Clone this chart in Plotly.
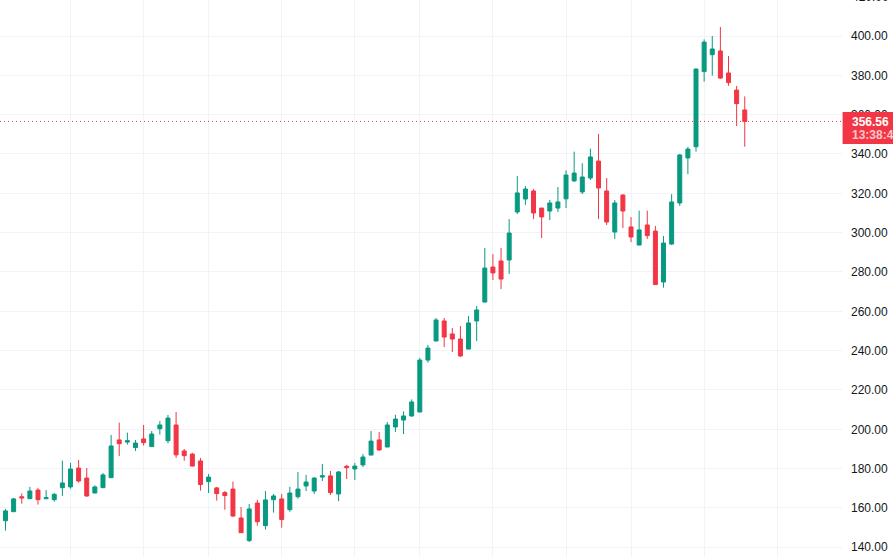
import plotly.graph_objects as go

# Weekly candles (index positions)
candle_index = list(range(92))
opens = [153.5, 158.1, 165.7, 164.7, 169.1, 164.7, 164.2, 170.3, 170.7, 180.3,
         175.2, 167.6, 170.3, 175.4, 194.6, 193.5, 190.7, 195.1, 191.2, 200.3,
         194.2, 202.2, 189.0, 187.4, 183.9, 173.4, 170.2, 167.8, 169.6, 154.9,
         143.4, 162.5, 151.0, 164.2, 164.6, 159.1, 165.7, 171.2, 168.6, 175.7,
         176.3, 167.1, 181.2, 179.8, 181.9, 186.9, 194.6, 191.0, 201.2, 204.7,
         206.8, 208.8, 235.2, 244.9, 255.1, 248.5, 245.9, 240.8, 255.1, 264.7,
         282.5, 285.6, 286.1, 310.5, 317.1, 321.2, 312.5, 311.0, 312.5, 317.2,
         326.3, 320.7, 327.8, 336.4, 321.2, 300.3, 319.1, 302.9, 293.7, 303.9,
         300.8, 274.9, 294.2, 315.1, 338.0, 343.7, 381.9, 390.5, 392.4, 381.2,
         372.5, 362.4]
highs = [159.5, 165.1, 167.4, 170.7, 170.2, 169.1, 167.6, 184.1, 182.9, 184.4,
         180.3, 171.5, 177.8, 197.1, 203.4, 198.3, 194.6, 202.2, 199.1, 204.2,
         207.3, 208.8, 190.0, 188.0, 185.4, 177.3, 170.7, 168.6, 173.4, 160.5,
         162.0, 164.1, 168.6, 167.1, 167.1, 170.7, 178.3, 176.8, 175.7, 182.4,
         178.8, 178.8, 181.9, 182.9, 187.4, 199.1, 198.6, 203.7, 207.4, 209.1,
         215.2, 236.3, 242.9, 256.6, 256.6, 251.5, 252.5, 257.6, 262.7, 292.2,
         289.1, 292.2, 306.9, 328.8, 323.7, 322.2, 312.6, 316.6, 323.2, 331.7,
         341.2, 335.3, 342.7, 350.2, 327.8, 316.6, 319.6, 307.9, 311.2, 311.2,
         303.4, 298.3, 319.6, 340.0, 343.6, 383.4, 398.3, 400.0, 404.6, 389.8,
         374.6, 369.3]
lows = [148.5, 158.0, 162.2, 164.6, 161.7, 164.6, 163.2, 166.1, 169.8, 172.9,
        165.6, 167.5, 170.2, 175.3, 186.4, 192.2, 189.0, 191.7, 191.1, 197.3,
        192.9, 185.4, 184.0, 181.2, 168.8, 167.6, 163.7, 159.1, 155.4, 147.3,
        142.7, 151.0, 149.0, 157.6, 150.0, 158.1, 164.7, 168.6, 167.1, 173.7,
        166.6, 163.5, 174.7, 174.2, 180.8, 186.8, 189.0, 190.9, 198.6, 197.6,
        206.3, 208.7, 233.9, 244.8, 241.8, 239.3, 236.8, 240.7, 244.9, 264.6,
        275.9, 271.3, 279.0, 309.5, 314.1, 306.9, 297.3, 306.4, 310.5, 312.5,
        325.8, 319.7, 326.8, 306.9, 303.9, 296.8, 302.4, 295.2, 293.6, 296.8,
        273.5, 272.0, 293.7, 313.6, 329.8, 341.2, 376.8, 379.8, 378.3, 374.7,
        354.2, 343.7]
closes = [158.5, 164.6, 165.1, 168.6, 164.2, 165.2, 166.9, 172.7, 179.8, 173.7,
          166.1, 170.7, 176.8, 191.5, 192.7, 194.2, 193.0, 193.2, 197.6, 202.2,
          205.7, 187.0, 186.6, 181.3, 171.9, 175.7, 167.3, 166.3, 155.9, 147.4,
          159.5, 153.0, 164.1, 166.1, 154.1, 167.6, 169.6, 173.2, 175.2, 176.4,
          167.8, 178.3, 180.5, 181.3, 185.9, 194.0, 189.5, 202.2, 205.2, 206.8,
          213.9, 235.2, 241.3, 255.6, 246.9, 245.9, 237.3, 254.1, 260.7, 282.0,
          279.5, 276.4, 299.8, 320.2, 322.2, 310.0, 308.0, 315.1, 315.6, 329.3,
          330.3, 328.3, 338.5, 322.7, 305.4, 315.1, 311.0, 297.8, 301.4, 298.5,
          273.6, 294.7, 315.6, 339.5, 342.5, 383.2, 396.9, 393.4, 378.6, 376.3,
          365.6, 356.56]

grid_index = [8, 17, 25, 34, 43, 51, 60, 69, 77, 86, 95]
price_ticks = [140, 160, 180, 200, 220, 240, 260, 280, 300, 320, 340, 360, 380, 400, 420]
last_price = 356.56
countdown = "13:38:46"

UP = "#089981"
DOWN = "#F23645"
GRID = "#f0f3fa"
TEXT = "#131722"
FONT = "Liberation Sans, Arial, sans-serif"

fig = go.Figure(go.Candlestick(
    x=candle_index, open=opens, high=highs, low=lows, close=closes,
    increasing=dict(line=dict(color=UP, width=1), fillcolor=UP),
    decreasing=dict(line=dict(color=DOWN, width=1), fillcolor=DOWN),
    whiskerwidth=0, hoverinfo="skip",
))

fig.update_layout(
    width=893, height=557,
    margin=dict(l=0, r=51, t=0, b=0),
    paper_bgcolor="white", plot_bgcolor="white",
    showlegend=False,
    font=dict(family=FONT, size=12, color=TEXT),
    xaxis=dict(
        range=[-0.677, 102.97], rangeslider=dict(visible=False),
        tickmode="array", tickvals=grid_index, showticklabels=False,
        showgrid=True, gridcolor=GRID, gridwidth=1, zeroline=False, showline=False,
        ticks="",
    ),
    yaxis=dict(
        side="right", range=[135.06, 418.31],
        tickmode="array", tickvals=price_ticks,
        ticktext=[f"{v:.2f}" for v in price_ticks],
        showgrid=True, gridcolor=GRID, gridwidth=1, zeroline=False, showline=False,
        ticks="", ticklabelstandoff=8,
        tickfont=dict(family=FONT, size=12, color=TEXT),
    ),
    shapes=[
        dict(type="line", xref="paper", yref="y", x0=0, x1=1, y0=last_price, y1=last_price,
             line=dict(color=DOWN, width=1, dash="1px,3px"), layer="above"),
        dict(type="rect", xref="paper", yref="y", x0=1.0007, x1=1.07,
             y0=last_price - 11.45, y1=last_price + 4.8,
             fillcolor=DOWN, line=dict(width=0), layer="above"),
    ],
    annotations=[
        dict(xref="paper", yref="y", x=1 + 8 / 842, y=last_price - 0.3, text=f"<b>{last_price:.2f}</b>",
             showarrow=False, xanchor="left", yanchor="middle",
             font=dict(family=FONT, size=12, color="white")),
        dict(xref="paper", yref="y", x=1 + 8 / 842, y=last_price - 6.7, text=f"<b>{countdown}</b>",
             showarrow=False, xanchor="left", yanchor="middle",
             font=dict(family=FONT, size=12, color="rgba(255,255,255,0.72)")),
        dict(xref="paper", yref="paper", x=1 + 8 / 842, y=1 + 3.3 / 557, text="420.00",
             showarrow=False, xanchor="left", yanchor="middle",
             font=dict(family=FONT, size=12, color=TEXT)),
    ],
)

fig.write_html("out.html")
